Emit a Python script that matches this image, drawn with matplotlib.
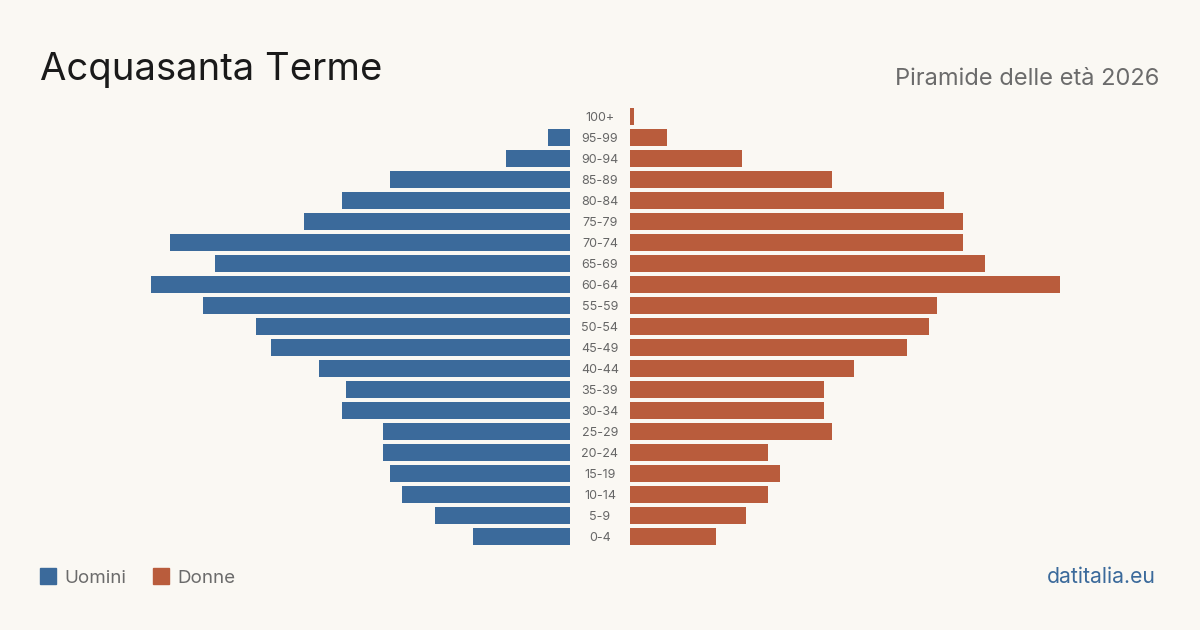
import matplotlib.pyplot as plt
import matplotlib.transforms as mtransforms
from matplotlib.patches import Rectangle

plt.rcParams['font.family'] = ['Inter', 'DejaVu Sans']

fasce = ["0-4", "5-9", "10-14", "15-19", "20-24", "25-29", "30-34", "35-39",
         "40-44", "45-49", "50-54", "55-59", "60-64", "65-69", "70-74", "75-79",
         "80-84", "85-89", "90-94", "95-99", "100+"]
uomini = [26, 36, 45, 48, 50, 50, 61, 60, 67, 80, 84, 98, 112, 95, 107, 71,
          61, 48, 17, 6, 0]
donne = [23, 31, 37, 40, 37, 54, 52, 52, 60, 74, 80, 82, 115, 95, 89, 89,
         84, 54, 30, 10, 1]

blu = "#3b6a9b"
rosso = "#b95c3c"
sfondo = "#faf8f3"

W, H = 1200, 630
fig = plt.figure(figsize=(W / 100, H / 100), dpi=100, facecolor=sfondo)

y0, y1 = 547, 106
bottom = 1 - y0 / H
height = (y0 - y1) / H
xmax = 530 / 3.74

ax_l = fig.add_axes([40 / W, bottom, 530 / W, height])
ax_r = fig.add_axes([630 / W, bottom, 530 / W, height])

pos = list(range(len(fasce)))
ax_l.barh(pos, uomini, height=0.81, color=blu)
ax_r.barh(pos, donne, height=0.81, color=rosso)

for ax in (ax_l, ax_r):
    ax.set_xlim(0, xmax)
    ax.set_ylim(-0.5, len(fasce) - 0.5)
    ax.axis("off")
ax_l.invert_xaxis()

# etichette delle fasce al centro
trans = mtransforms.blended_transform_factory(fig.transFigure, ax_l.transData)
for i, f in enumerate(fasce):
    ax_l.text(600 / W, i - 0.07, f, transform=trans, ha="center", va="center",
              fontsize=9, color="#666666", clip_on=False)

fig.text(40 / W, 1 - 80 / H, "Acquasanta Terme", fontsize=27.5,
         color="#1a1a1a", ha="left", va="baseline")
fig.text(1159 / W, 1 - 85 / H, "Piramide delle età 2026", fontsize=17,
         color="#6b6b6b", ha="right", va="baseline")

# legenda
fig.patches.append(Rectangle((40 / W, 1 - 584 / H), 16 / W, 16 / H,
                             transform=fig.transFigure, color=blu))
fig.text(64 / W, 1 - 583 / H, "Uomini", fontsize=13.5, color="#6b6b6b",
         ha="left", va="baseline")
fig.patches.append(Rectangle((153 / W, 1 - 584 / H), 16 / W, 16 / H,
                             transform=fig.transFigure, color=rosso))
fig.text(177 / W, 1 - 583 / H, "Donne", fontsize=13.5, color="#6b6b6b",
         ha="left", va="baseline")

fig.text(1156 / W, 1 - 583 / H, "datitalia.eu", fontsize=15.3, color=blu,
         ha="right", va="baseline")

fig.savefig("out.png", dpi=100, facecolor=sfondo)
